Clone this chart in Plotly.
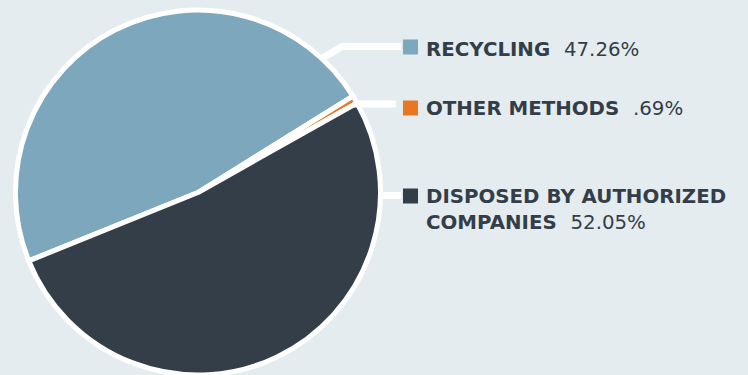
import plotly.graph_objects as go

# Waste treatment shares
categories = ["RECYCLING", "OTHER METHODS", "DISPOSED BY AUTHORIZED<br>COMPANIES"]
shares = [47.26, 0.69, 52.05]
share_labels = ["47.26%", ".69%", "52.05%"]
colors = ["#7ca7bd", "#e87722", "#343e49"]

W, H = 748, 375
BG = "#e5ecf0"
TEXT = "#333e48"
FONT = "DejaVu Sans"


def px(x):
    return x / W


def py(y):
    return 1 - y / H


fig = go.Figure(
    go.Pie(
        values=shares,
        labels=[c.replace("<br>", " ") for c in categories],
        marker=dict(colors=colors, line=dict(color="white", width=5)),
        sort=False,
        direction="clockwise",
        rotation=-112,
        textinfo="none",
        hoverinfo="label+percent",
        domain=dict(x=[px(14), px(382)], y=[0, py(10)]),
    )
)

# white leader lines from the pie rim to each legend entry
leaders = [
    [(321, 59), (342, 46.5), (401, 46.5)],
    [(354, 104), (396, 104)],
    [(380, 195.5), (401, 195.5)],
]
shapes = []
for pts in leaders:
    path = "M " + " L ".join(f"{px(x)},{py(y)}" for x, y in pts)
    shapes.append(dict(type="path", path=path, xref="paper", yref="paper",
                       line=dict(color="white", width=7)))

# legend swatches and labels
entry_y = [47, 108, 196]
text_y = [49.5, 109, 209.5]
annotations = []
for cat, lab, col, sy, ty in zip(categories, share_labels, colors, entry_y, text_y):
    shapes.append(dict(type="rect", xref="paper", yref="paper",
                       x0=px(403), x1=px(418), y0=py(sy - 7.5), y1=py(sy + 7.5),
                       fillcolor=col, line=dict(width=0)))
    lines = cat.split("<br>")
    gap = "\u00a0\u00a0"
    text = "<br>".join(lines[:-1] + [
        f"{lines[-1]}{gap}<span style='font-weight:400'>{lab}</span>"])
    annotations.append(dict(
        text=text, x=px(424), y=py(ty), xref="paper", yref="paper",
        xanchor="left", yanchor="middle", align="left", showarrow=False,
        font=dict(family=FONT, size=19.8, color=TEXT, weight=700),
    ))

fig.update_layout(
    width=W, height=H,
    margin=dict(l=0, r=0, t=0, b=0),
    paper_bgcolor=BG, plot_bgcolor=BG,
    showlegend=False,
    shapes=shapes,
    annotations=annotations,
)

fig.write_html("out.html")
